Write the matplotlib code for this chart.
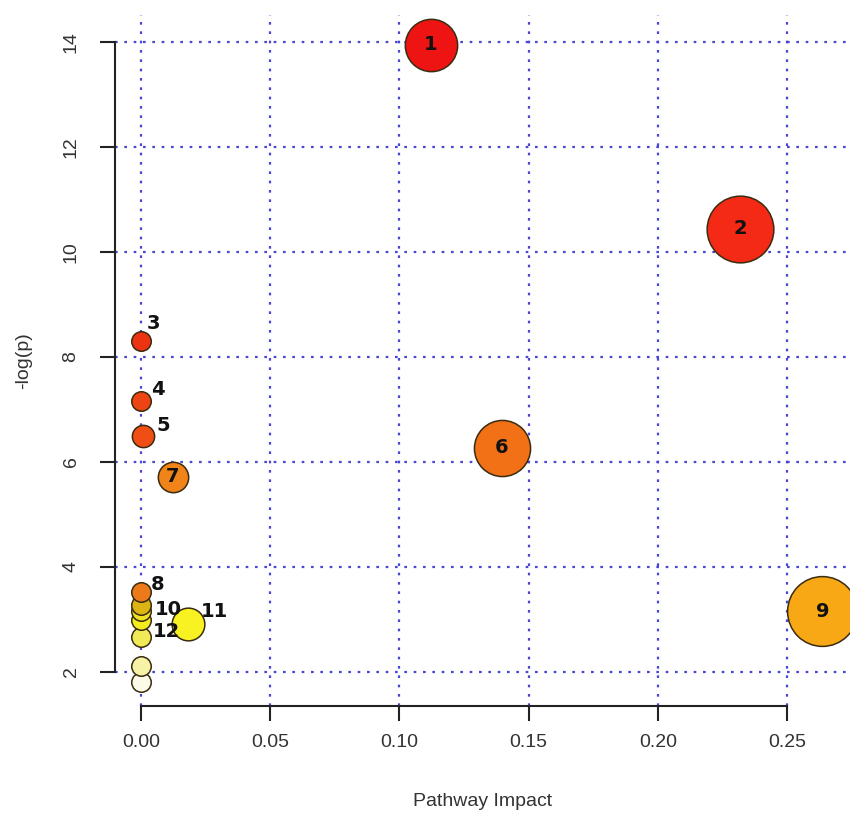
import matplotlib

matplotlib.use("Agg")
import matplotlib.pyplot as plt
import numpy as np

# pathway impact (x) and -log(p) (y), one entry per pathway
impact = [0.1122, 0.2320, 0.0, 0.0, 0.0008, 0.1397, 0.0123, 0.0,
          0.0, 0.0, 0.2637, 0.0, 0.0182, 0.0, 0.0, 0.0]
neglogp = [13.94, 10.44, 8.30, 7.16, 6.50, 6.27, 5.72, 3.52,
           3.27, 3.15, 3.15, 2.99, 2.91, 2.67, 2.12, 1.80]
labels = ["1", "2", "3", "4", "5", "6", "7", "8",
          "", "10", "9", "", "11", "12", "", ""]
xticks = [0.00, 0.05, 0.10, 0.15, 0.20, 0.25]
yticks = [2, 4, 6, 8, 10, 12, 14]

# fill colours (heat palette as it looks in the figure)
colors = ["#ee1414", "#f42a16", "#ec3412", "#ec4412", "#f04e14", "#f27016",
          "#f08418", "#ec7a1a", "#dcb414", "#f0e022", "#f7a814", "#f4ec1e",
          "#f8f222", "#f0ea58", "#f6f2a6", "#fcfae8"]
# label offsets in points (0,0 = centred inside the circle)
offsets = {"3": (8.6, 13), "4": (12.2, 7.9), "5": (14.4, 7.2),
           "8": (12.2, 5.8), "10": (19.5, 1.4), "11": (19, 9.4),
           "12": (18, 3.6)}

W, H, DPI = 850, 813, 100
fig = plt.figure(figsize=(W / DPI, H / DPI), dpi=DPI)
ax = fig.add_axes([115 / W, (H - 706) / H, (W - 115) / W, (706 - 15) / H])
ax.set_xlim(-0.01006, 0.2744)
ax.set_ylim(1.35, 14.51)

# circle radius grows with impact (px), converted to scatter area
r_px = 9.75 + 49 * np.sqrt(np.array(impact))
sizes = (2 * r_px * 72 / DPI) ** 2

order = list(range(len(impact)))[::-1]
for i in order:
    ax.scatter(impact[i], neglogp[i], s=sizes[i], c=colors[i],
               edgecolors="#3a2c10", linewidths=1.1, zorder=3, clip_on=False)

for i, lab in enumerate(labels):
    if not lab:
        continue
    dx, dy = offsets.get(lab, (0, 0))
    ax.annotate(lab, (impact[i], neglogp[i]), xytext=(dx, dy),
                textcoords="offset points", ha="center", va="center",
                fontsize=14, fontweight="bold", family="DejaVu Sans",
                color="#111111", zorder=5, annotation_clip=False)

ax.set_xticks(xticks)
ax.set_xticklabels([f"{t:.2f}" for t in xticks])
ax.set_yticks(yticks)
ax.set_yticklabels([str(t) for t in yticks], rotation=90, va="center")
ax.grid(True, color="#4848d4", linestyle=(0, (1.2, 3)), linewidth=1.6)
ax.set_axisbelow(True)

for s in ["top", "right"]:
    ax.spines[s].set_visible(False)
ax.spines["left"].set_bounds(2, 14)
ax.spines["bottom"].set_bounds(0, 0.25)
for s in ["left", "bottom"]:
    ax.spines[s].set_linewidth(1.5)
    ax.spines[s].set_color("#222222")

tickfont = ["Liberation Sans", "DejaVu Sans"]
ax.tick_params(axis="both", direction="out", length=10.5, width=1.5,
               color="#222222", labelsize=14, labelcolor="#333333")
ax.tick_params(axis="x", pad=10)
ax.tick_params(axis="y", pad=15)
for t in ax.get_xticklabels() + ax.get_yticklabels():
    t.set_family(tickfont)

ax.set_xlabel("Pathway Impact", fontsize=14, family=tickfont, color="#333333",
              labelpad=30)
ax.set_ylabel("-log(p)", fontsize=14, family=tickfont, color="#333333",
              labelpad=22)

fig.savefig("out.png", dpi=DPI)
